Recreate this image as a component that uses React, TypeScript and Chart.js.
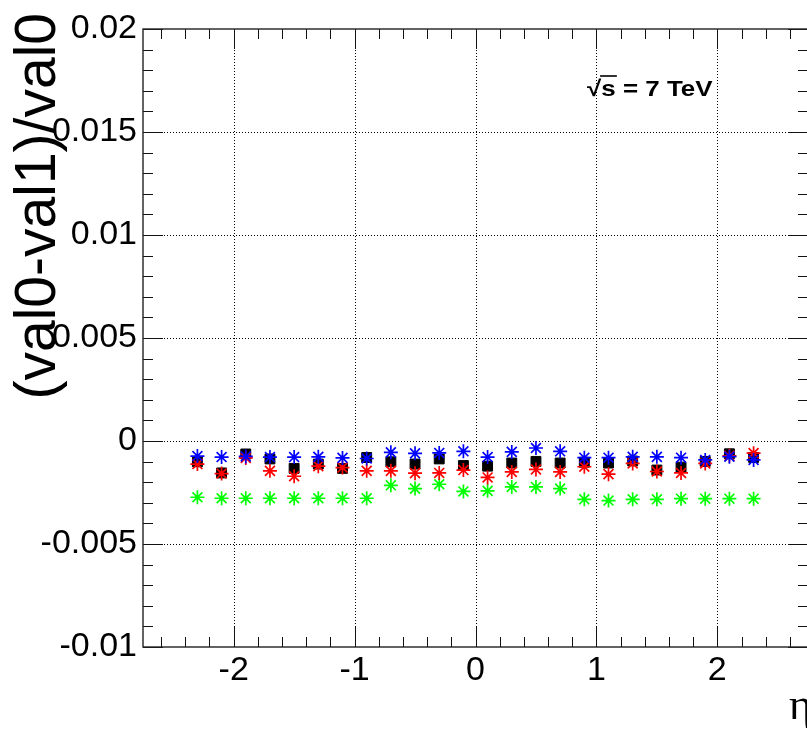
import React, { useEffect, useRef } from "react";
import { Chart, registerables } from "chart.js";

Chart.register(...registerables);

// ---- data ----
const etaCenters = [-2.3, -2.1, -1.9, -1.7, -1.5, -1.3, -1.1, -0.9, -0.7, -0.5, -0.3, -0.1, 0.1, 0.3, 0.5, 0.7, 0.9, 1.1, 1.3, 1.5, 1.7, 1.9, 2.1, 2.3];
const blueValues = [-0.00073, -0.00078, -0.00075, -0.00078, -0.00078, -0.00077, -0.00082, -0.00085, -0.00055, -0.0006, -0.00058, -0.0005, -0.00078, -0.00053, -0.00034, -0.0005, -0.00081, -0.00081, -0.00077, -0.00077, -0.00081, -0.00092, -0.00076, -0.00092];
const redValues = [-0.00112, -0.00158, -0.00082, -0.00145, -0.00171, -0.00122, -0.00129, -0.00145, -0.00145, -0.00156, -0.00155, -0.00141, -0.00177, -0.0015, -0.00138, -0.0015, -0.00125, -0.00161, -0.00109, -0.00148, -0.00155, -0.00109, -0.00072, -0.00059];
const greenValues = [-0.00273, -0.00278, -0.00278, -0.00278, -0.00278, -0.00278, -0.00278, -0.00278, -0.00215, -0.00231, -0.0021, -0.00245, -0.00242, -0.00223, -0.00223, -0.00231, -0.00283, -0.00289, -0.00283, -0.00283, -0.0028, -0.0028, -0.0028, -0.0028];
const blackValues = [-0.00101, -0.00155, -0.00063, -0.00087, -0.00133, -0.00112, -0.00133, -0.0008, -0.00101, -0.00112, -0.00087, -0.00119, -0.00122, -0.00107, -0.00099, -0.00107, -0.00103, -0.00107, -0.00097, -0.00141, -0.00127, -0.00099, -0.00062, -0.0008];

const xTickValues = [-2, -1, 0, 1, 2];
const xTickLabels = ["-2", "-1", "0", "1", "2"];
const yTickValues = [-0.01, -0.005, 0, 0.005, 0.01, 0.015, 0.02];
const yTickLabels = ["-0.01", "-0.005", "0", "0.005", "0.01", "0.015", "0.02"];
const xMin = -2.75;
const xMax = 2.75;
const yMin = -0.01;
const yMax = 0.02;
const yTitle = "(val0-val1)/val0";
const xTitle = "η";
const energyLabelRest = " = 7 TeV";

const TICK_FONT = "'Liberation Sans', Arial, sans-serif";

const rootStylePlugin = {
  id: "rootStyle",
  beforeDatasetsDraw(chart: any) {
    const { ctx, chartArea: a, scales } = chart;
    const xs = scales.x;
    const ys = scales.y;
    ctx.save();
    // dotted grid
    ctx.strokeStyle = "#000";
    ctx.lineWidth = 1;
    ctx.setLineDash([1, 2]);
    for (const v of xTickValues) {
      const px = Math.round(xs.getPixelForValue(v)) + 0.5;
      ctx.beginPath();
      ctx.moveTo(px, a.top);
      ctx.lineTo(px, a.bottom);
      ctx.stroke();
    }
    for (const v of yTickValues) {
      if (v === yMin || v === yMax) continue;
      const py = Math.round(ys.getPixelForValue(v)) + 0.5;
      ctx.beginPath();
      ctx.moveTo(a.left, py);
      ctx.lineTo(a.right, py);
      ctx.stroke();
    }
    ctx.setLineDash([]);
    // ticks (inward, all four sides)
    ctx.strokeStyle = "#111";
    ctx.lineWidth = 1;
    for (let i = -13; i <= 13; i++) {
      const v = i * 0.2;
      const major = i % 5 === 0;
      const len = major ? 20 : 10;
      const px = Math.round(xs.getPixelForValue(v)) + 0.5;
      ctx.beginPath();
      ctx.moveTo(px, a.bottom);
      ctx.lineTo(px, a.bottom - len);
      ctx.moveTo(px, a.top);
      ctx.lineTo(px, a.top + len);
      ctx.stroke();
    }
    for (let i = -10; i <= 20; i++) {
      const v = i * 0.001;
      const major = i % 5 === 0;
      const len = major ? 20 : 10;
      const py = Math.round(ys.getPixelForValue(v)) + 0.5;
      ctx.beginPath();
      ctx.moveTo(a.left, py);
      ctx.lineTo(a.left + len, py);
      ctx.moveTo(a.right, py);
      ctx.lineTo(a.right - len, py);
      ctx.stroke();
    }
    // frame
    ctx.strokeStyle = "#222";
    ctx.lineWidth = 1.4;
    ctx.strokeRect(a.left, a.top, a.right - a.left, a.bottom - a.top);
    ctx.restore();
  },
  afterDraw(chart: any) {
    const { ctx } = chart;
    ctx.save();
    ctx.fillStyle = "#000";
    // y title
    ctx.save();
    ctx.translate(55, 13);
    ctx.rotate(-Math.PI / 2);
    ctx.font = `57px ${TICK_FONT}`;
    ctx.textAlign = "right";
    ctx.textBaseline = "alphabetic";
    ctx.fillText(yTitle, 0, 0);
    ctx.restore();
    // sqrt(s) = 7 TeV (horizontally widened like the ROOT rendering)
    ctx.save();
    const x0 = 587;
    const base = 96;
    ctx.translate(x0, base);
    ctx.scale(1.18, 1);
    ctx.font = `bold 22px ${TICK_FONT}`;
    ctx.textAlign = "left";
    ctx.textBaseline = "alphabetic";
    ctx.fillText("√", 0, 0);
    const w1 = ctx.measureText("√").width;
    ctx.fillText("s", w1, 0);
    const ws = ctx.measureText("s").width;
    ctx.strokeStyle = "#000";
    ctx.lineWidth = 1.6;
    ctx.beginPath();
    ctx.moveTo(w1 - 1, -20);
    ctx.lineTo(w1 + ws + 1, -20);
    ctx.stroke();
    ctx.fillText(energyLabelRest, w1 + ws, 0);
    ctx.restore();
    // eta
    ctx.font = `44px 'Liberation Serif', 'DejaVu Serif', serif`;
    ctx.textAlign = "left";
    ctx.fillText(xTitle, 789, 719);
    ctx.restore();
  },
};

function pts(values: number[]) {
  return etaCenters.map((x, i) => ({ x, y: values[i] }));
}

export default function App() {
  const canvasRef = useRef<HTMLCanvasElement | null>(null);

  useEffect(() => {
    document.body.style.margin = "0";
    document.body.style.overflow = "hidden";
    const canvas = canvasRef.current;
    if (!canvas) return;
    const star = (color: string) => ({
      pointStyle: "star",
      pointRadius: 7,
      pointBorderColor: color,
      pointBackgroundColor: color,
      pointBorderWidth: 1.7,
      showLine: false,
      borderColor: color,
      backgroundColor: color,
    });
    const chart = new Chart(canvas, {
      type: "scatter",
      data: {
        datasets: [
          { label: "blue", data: pts(blueValues), ...star("#0000ff") },
          { label: "red", data: pts(redValues), ...star("#ff0000") },
          { label: "green", data: pts(greenValues), ...star("#00ff00") },
          {
            label: "black",
            data: pts(blackValues),
            pointStyle: "rect",
            pointRadius: 7,
            pointBorderWidth: 1,
            pointBorderColor: "#000",
            pointBackgroundColor: "#000",
            showLine: false,
          },
        ],
      } as any,
      options: {
        animation: false,
        responsive: false,
        maintainAspectRatio: false,
        devicePixelRatio: 1,
        layout: { padding: { top: 29, right: 22, left: 0, bottom: 0 } },
        plugins: {
          legend: { display: false },
          tooltip: { enabled: false },
          title: { display: false },
        },
        scales: {
          x: {
            type: "linear",
            min: xMin,
            max: xMax,
            grid: { display: false, drawTicks: false },
            border: { display: false },
            afterBuildTicks: (s: any) => {
              s.ticks = xTickValues.map((v) => ({ value: v }));
            },
            afterFit: (s: any) => {
              s.height = 82;
            },
            ticks: {
              callback: (v: any) => {
                const i = xTickValues.indexOf(Number(v));
                return i >= 0 ? xTickLabels[i] : "";
              },
              font: { family: TICK_FONT, size: 34 },
              color: "#000",
              padding: 3,
              maxRotation: 0,
              autoSkip: false,
            },
          },
          y: {
            type: "linear",
            min: yMin,
            max: yMax,
            grid: { display: false, drawTicks: false },
            border: { display: false },
            afterBuildTicks: (s: any) => {
              s.ticks = yTickValues.map((v) => ({ value: v }));
            },
            afterFit: (s: any) => {
              s.width = 143;
            },
            ticks: {
              callback: (v: any) => {
                const i = yTickValues.indexOf(Number(v));
                return i >= 0 ? yTickLabels[i] : "";
              },
              font: { family: TICK_FONT, size: 34 },
              color: "#000",
              padding: 6,
              autoSkip: false,
            },
          },
        },
      } as any,
      plugins: [rootStylePlugin],
    });
    return () => chart.destroy();
  }, []);

  return (
    <div style={{ position: "absolute", left: 0, top: 0, width: 807, height: 729, overflow: "hidden", background: "#fff" }}>
      <canvas ref={canvasRef} width={830} height={729} style={{ display: "block", width: 830, height: 729 }} />
    </div>
  );
}
